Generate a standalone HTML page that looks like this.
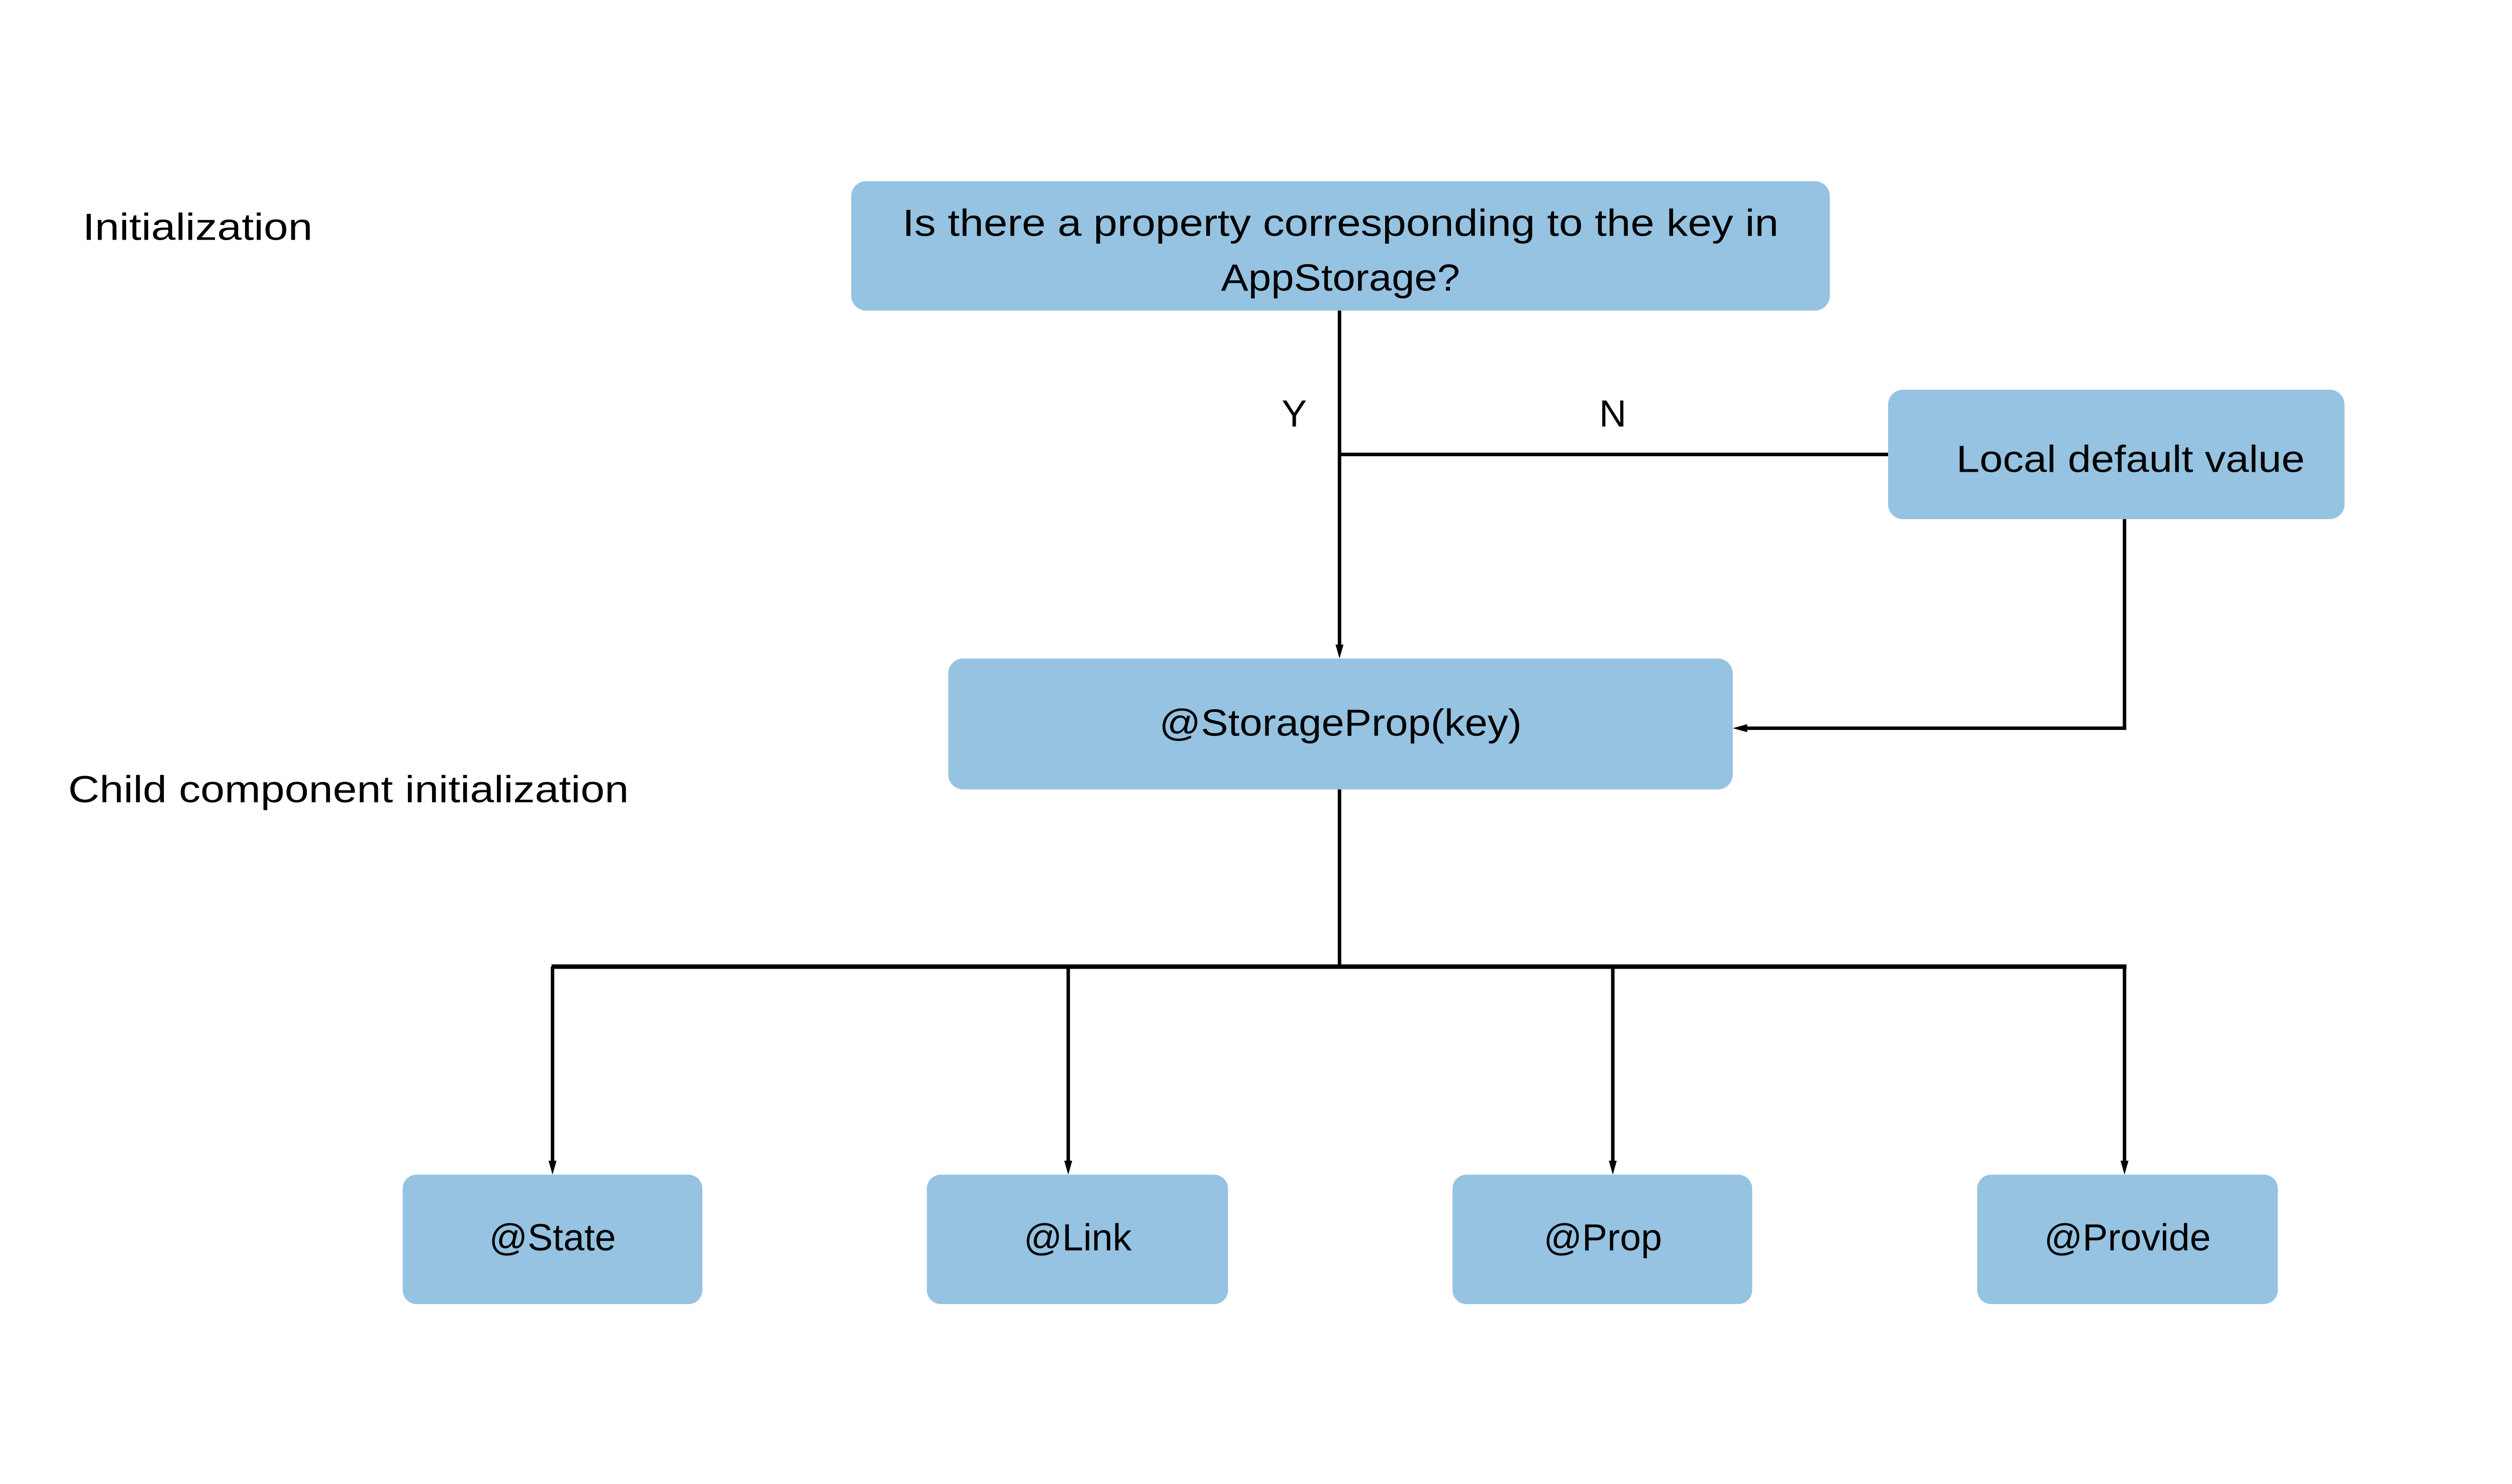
<!DOCTYPE html>
<html><head><meta charset="utf-8"><style>
html,body{margin:0;padding:0;background:#fff;}
svg{display:block;}
text{font-family:"Liberation Sans",sans-serif;fill:#000;}
</style></head><body>
<svg width="5038" height="2954" viewBox="0 0 5038 2954" xmlns="http://www.w3.org/2000/svg">
<rect width="5038" height="2954" fill="#fff"/>
<g transform="scale(0.9908)">
<g fill="#95c3e1">
<rect x="1710" y="364" width="1966" height="260" rx="30"/>
<rect x="3793" y="783" width="917" height="260" rx="30"/>
<rect x="1905" y="1323" width="1576" height="263" rx="30"/>
<rect x="809" y="2360" width="602" height="260" rx="28"/>
<rect x="1862" y="2360" width="605" height="260" rx="28"/>
<rect x="2918" y="2360" width="602" height="260" rx="28"/>
<rect x="3972" y="2360" width="604" height="260" rx="28"/>
</g>
<g stroke="#000" stroke-width="7" fill="none">
<line x1="2691" y1="624" x2="2691" y2="1295"/>
<line x1="2691" y1="913" x2="3793" y2="913"/>
<polyline points="4268,1043 4268,1463 3510,1463"/>
<line x1="2691" y1="1586" x2="2691" y2="1945"/>
<line x1="1108" y1="1942" x2="4272" y2="1942" stroke-width="9"/>
<line x1="1110" y1="1942" x2="1110" y2="2332"/>
<line x1="2146" y1="1942" x2="2146" y2="2332"/>
<line x1="3240" y1="1942" x2="3240" y2="2332"/>
<line x1="4268" y1="1942" x2="4268" y2="2332"/>
</g>
<g fill="#000">
<polygon points="2683,1295 2699,1295 2691,1323"/>
<polygon points="3510,1455 3510,1471 3481,1463"/>
<polygon points="1102,2332 1118,2332 1110,2360"/>
<polygon points="2138,2332 2154,2332 2146,2360"/>
<polygon points="3232,2332 3248,2332 3240,2360"/>
<polygon points="4260,2332 4276,2332 4268,2360"/>
</g>
<g font-size="76">
<text x="2693" y="474" text-anchor="middle" textLength="1760" lengthAdjust="spacingAndGlyphs">Is there a property corresponding to the key in</text>
<text x="2693" y="584" text-anchor="middle" textLength="480" lengthAdjust="spacingAndGlyphs">AppStorage?</text>
<text x="4280" y="948" text-anchor="middle" textLength="700" lengthAdjust="spacingAndGlyphs">Local default value</text>
<text x="2693" y="1478" text-anchor="middle" textLength="728" lengthAdjust="spacingAndGlyphs">@StorageProp(key)</text>
<text x="1110" y="2512" text-anchor="middle">@State</text>
<text x="2165" y="2512" text-anchor="middle">@Link</text>
<text x="3220" y="2512" text-anchor="middle">@Prop</text>
<text x="4274" y="2512" text-anchor="middle">@Provide</text>
<text x="2600" y="857" text-anchor="middle">Y</text>
<text x="3240" y="857" text-anchor="middle">N</text>
<text x="166" y="482" textLength="462" lengthAdjust="spacingAndGlyphs">Initialization</text>
<text x="137" y="1612" textLength="1126" lengthAdjust="spacingAndGlyphs">Child component initialization</text>
</g>
</g>
</svg>
</body></html>
